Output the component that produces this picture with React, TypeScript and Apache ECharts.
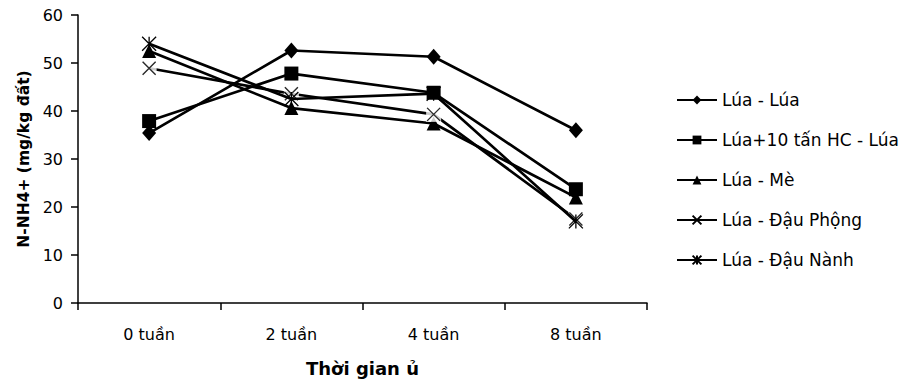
import React, { useEffect, useRef } from 'react';
import * as echarts from 'echarts';

const categories = ['0 tuần', '2 tuần', '4 tuần', '8 tuần'];
const seriesNames = ['Lúa - Lúa', 'Lúa+10 tấn HC - Lúa', 'Lúa - Mè', 'Lúa - Đậu Phộng', 'Lúa - Đậu Nành'];
const luaLua = [35.4, 52.6, 51.3, 36.0];
const lua10HC = [37.9, 47.8, 43.8, 23.7];
const luaMe = [52.5, 40.6, 37.4, 22.0];
const luaDauPhong = [48.9, 43.6, 39.3, 17.5];
const luaDauNanh = [54.0, 42.5, 43.6, 17.0];
const yMin = 0;
const yMax = 60;
const yStep = 10;
const xTitle = 'Thời gian ủ';
const yTitle = 'N-NH4+ (mg/kg đất)';

export default function App() {
  const ref = useRef<HTMLDivElement>(null);
  useEffect(() => {
    const chart = echarts.init(ref.current!, null, { renderer: 'svg' });
    const font = 'DejaVu Sans';
    const xPath = 'path://M0,0L10,10M10,0L0,10';
    const starPath = 'path://M0,0L10,10M10,0L0,10M5,0L5,10';
    const lineStyle = { color: '#000', width: 2.7 };
    const option: any = {
      animation: false,
      backgroundColor: '#fff',
      grid: { left: 78, right: 262, top: 15, bottom: 75, containLabel: false },
      legend: {
        data: seriesNames,
        orient: 'vertical',
        left: 671,
        top: 85,
        itemWidth: 40,
        itemHeight: 11,
        itemGap: 20,
        textStyle: { fontFamily: font, fontSize: 17, color: '#000', lineHeight: 20 },
        selectedMode: false,
      },
      xAxis: {
        type: 'category',
        data: categories,
        boundaryGap: true,
        name: xTitle,
        nameLocation: 'middle',
        nameGap: 56,
        nameTextStyle: { fontFamily: font, fontSize: 18, fontWeight: 'bold', color: '#000' },
        axisLine: { lineStyle: { color: '#000', width: 1.5 } },
        axisTick: { show: true, length: 7, lineStyle: { color: '#000', width: 1.5 } },
        axisLabel: { fontFamily: font, fontSize: 16, color: '#000', margin: 23 },
        splitLine: { show: false },
      },
      yAxis: {
        type: 'value',
        min: yMin,
        max: yMax,
        interval: yStep,
        name: yTitle,
        nameLocation: 'middle',
        nameRotate: 90,
        nameGap: 46,
        nameTextStyle: { fontFamily: font, fontSize: 15.5, fontWeight: 'bold', color: '#000' },
        axisLine: { show: true, lineStyle: { color: '#000', width: 1.5 } },
        axisTick: { show: true, length: 7, lineStyle: { color: '#000', width: 1.5 } },
        axisLabel: { fontFamily: font, fontSize: 16, color: '#000', margin: 15 },
        splitLine: { show: false },
      },
      series: [
        {
          type: 'line', name: seriesNames[0], data: luaLua, symbol: 'diamond', symbolSize: [14, 16],
          lineStyle, itemStyle: { color: '#000' }, z: 2,
        },
        {
          type: 'line', name: seriesNames[1], data: lua10HC, symbol: 'rect', symbolSize: 14,
          lineStyle, itemStyle: { color: '#000' }, z: 2,
        },
        {
          type: 'line', name: seriesNames[2], data: luaMe, symbol: 'triangle', symbolSize: 14,
          lineStyle, itemStyle: { color: '#000' }, z: 2,
        },
        {
          type: 'line', name: seriesNames[3], data: luaDauPhong, symbol: xPath, symbolSize: 13,
          lineStyle, itemStyle: { color: 'none', borderColor: '#000', borderWidth: 1.3 }, z: 2,
        },
        {
          type: 'scatter', name: 'mask', data: luaDauPhong, symbol: 'rect', symbolSize: 15,
          itemStyle: { color: '#fff' }, z: 3, silent: true,
        },
        {
          type: 'scatter', name: 'markX', data: luaDauPhong, symbol: xPath, symbolSize: 13,
          itemStyle: { color: 'none', borderColor: '#000', borderWidth: 1.3 }, z: 4, silent: true,
        },
        {
          type: 'line', name: seriesNames[4], data: luaDauNanh, symbol: starPath, symbolSize: 14,
          lineStyle, itemStyle: { color: 'none', borderColor: '#000', borderWidth: 1.3 }, z: 5,
        },
      ],
    };
    chart.setOption(option);
    return () => chart.dispose();
  }, []);
  return <div ref={ref} style={{ position: 'fixed', left: 0, top: 0, width: 909, height: 382, background: '#fff' }} />;
}
